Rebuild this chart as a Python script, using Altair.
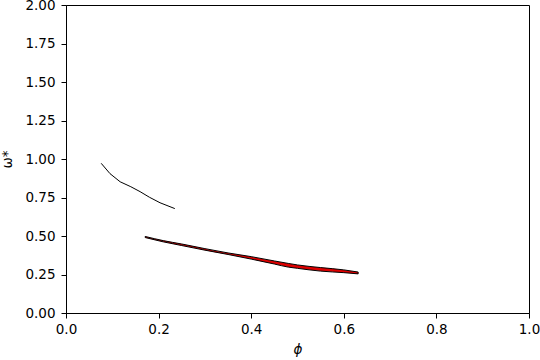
import altair as alt
import pandas as pd

# black curve
line_x = [0.076, 0.095, 0.117, 0.14, 0.16, 0.18, 0.203, 0.235]
line_y = [0.972, 0.905, 0.852, 0.82, 0.788, 0.752, 0.716, 0.678]

# red band
band_x = [0.171, 0.21, 0.25, 0.30, 0.35, 0.40, 0.45, 0.48, 0.50, 0.55, 0.60, 0.631]
band_lo = [0.490, 0.462, 0.438, 0.408, 0.380, 0.350, 0.318, 0.298, 0.290, 0.272, 0.262, 0.254]
band_hi = [0.497, 0.470, 0.448, 0.418, 0.390, 0.366, 0.338, 0.322, 0.312, 0.295, 0.280, 0.266]

x_ticks = [0, 0.2, 0.4, 0.6, 0.8, 1.0]
y_ticks = [0, 0.25, 0.5, 0.75, 1.0, 1.25, 1.5, 1.75, 2.0]

line_df = pd.DataFrame({"x": line_x, "y": line_y})
band_df = pd.DataFrame({"x": band_x, "lo": band_lo, "hi": band_hi})

xs = alt.Scale(domain=[0, 1], nice=False, zero=False)
ys = alt.Scale(domain=[0, 2], nice=False, zero=False)

style = dict(grid=False, tickSize=5, tickColor="black", tickWidth=1,
             domainColor="black", domainWidth=1, labelColor="black",
             labelFontSize=13.5, labelFont="DejaVu Sans", titleFont="DejaVu Sans",
             titleFontSize=13.5, titleFontWeight="normal", titleColor="black",
             labelFlush=False, labelOverlap=False)


def xaxis():
    return alt.Axis(values=x_ticks, format=".1f", title="ϕ", titleFontStyle="italic",
                    titlePadding=7, labelPadding=4, **style)


def yaxis():
    return alt.Axis(values=y_ticks, format=".2f", title="ω*", titlePadding=10,
                    labelPadding=6, **style)


band = alt.Chart(band_df).mark_area(color="#dd0000", stroke="black", strokeWidth=1,
                                    interpolate="monotone").encode(
    x=alt.X("x:Q", scale=xs, axis=xaxis()),
    y=alt.Y("lo:Q", scale=ys, axis=yaxis()),
    y2="hi:Q",
)

line = alt.Chart(line_df).mark_line(color="black", strokeWidth=1).encode(
    x=alt.X("x:Q", scale=xs, axis=xaxis()),
    y=alt.Y("y:Q", scale=ys, axis=yaxis()),
)

chart = alt.layer(band, line).properties(
    width=463, height=308,
    autosize=alt.AutoSizeParams(type="none"),
    padding={"left": 66, "top": 5, "right": 11, "bottom": 47},
).configure(background="white").configure_view(stroke="black", strokeWidth=1)

chart.save("out.html", embed_options={"renderer": "svg", "actions": False})
